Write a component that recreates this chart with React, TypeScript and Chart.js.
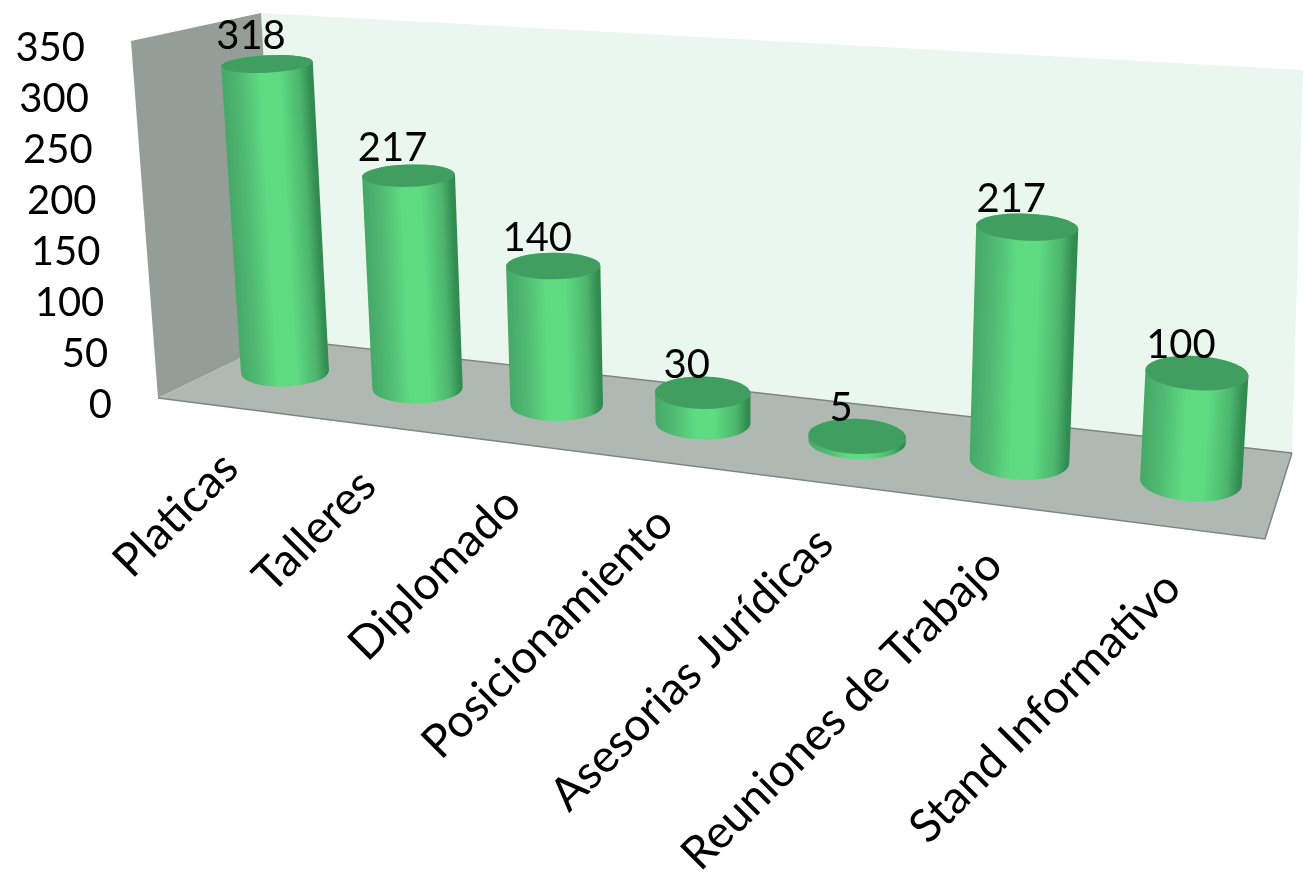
import React, { useEffect, useRef } from "react";
import { Chart, registerables, BarController } from "chart.js";

Chart.register(...registerables);

const categories = ["Platicas", "Talleres", "Diplomado", "Posicionamiento", "Asesorias Jurídicas", "Reuniones de Trabajo", "Stand Informativo"];
const values = [318, 217, 140, 30, 5, 217, 100];
const axisMax = 350;
const axisStep = 50;

const FONT = "Lato";
const LEFT_WALL = [[131, 41], [158, 398], [280, 339], [261, 13]];
const BACK_WALL = [[261, 13], [280, 339], [1292, 453], [1303, 70]];
const FLOOR = [[158, 398], [280, 339], [1292, 453], [1265, 539]];

// perspective of the plane through the cylinder axes: s along categories, t along values
const project = (s: number, t: number) => {
  const w = 1 - 0.1434 * s - 0.0405 * t;
  return { x: (735.2 * s - 30.62 * t + 285) / w, y: (40.9 * s - 341.6 * t + 372) / w };
};

const scalesOf = (chart: any) => {
  const xs = chart.scales.x, ys = chart.scales.y;
  const x0 = xs.getPixelForValue(0), x1 = xs.getPixelForValue(categories.length - 1);
  const y0 = ys.getPixelForValue(0), y1 = ys.getPixelForValue(axisMax);
  return { toS: (px: number) => (px - x0) / (x1 - x0), toT: (py: number) => (y0 - py) / (y0 - y1) };
};

const ring = (s: number, t: number) => {
  const c = project(s, t);
  const rx = 44 + 7 * s + 2 * t;
  const ry = rx * (0.16 + 0.00046 * c.y);
  const rot = ((-2 + 6 * s - t) * Math.PI) / 180;
  return { ...c, rx, ry, rot };
};

class CylinderController extends BarController {
  static id = "cylinder";
  draw() {
    const chart: any = this.chart;
    const ctx = chart.ctx;
    const { toS, toT } = scalesOf(chart);
    for (const el of (this as any)._cachedMeta.data) {
      const s = toS(el.x);
      const top = ring(s, toT(el.y));
      const bot = ring(s, toT(el.base));
      const dx = top.x - bot.x, dy = top.y - bot.y;
      const len = Math.hypot(dx, dy) || 1;
      const nx = -dy / len, ny = dx / len;
      const r = (top.rx + bot.rx) / 2;
      const mx = (top.x + bot.x) / 2, my = (top.y + bot.y) / 2;
      const g = ctx.createLinearGradient(mx - nx * r, my - ny * r, mx + nx * r, my + ny * r);
      const flip = nx > 0 ? 0 : 1;
      const stops: [number, string][] = [[0, "#46a866"], [0.2, "#50bb73"], [0.42, "#5fdc81"], [0.62, "#5fdc81"], [0.85, "#4cb56d"], [0.96, "#348e52"], [1, "#2f8a50"]];
      stops.forEach(([p, c]) => g.addColorStop(flip ? 1 - p : p, c));
      ctx.save();
      ctx.beginPath();
      ctx.ellipse(bot.x, bot.y, bot.rx, bot.ry, bot.rot, 0, Math.PI);
      ctx.ellipse(top.x, top.y, top.rx, top.ry, top.rot, Math.PI, 2 * Math.PI);
      ctx.closePath();
      ctx.fillStyle = g;
      ctx.fill();
      ctx.beginPath();
      ctx.ellipse(top.x, top.y, top.rx, top.ry, top.rot, 0, 2 * Math.PI);
      ctx.fillStyle = "#409f60";
      ctx.fill();
      ctx.restore();
    }
  }
}
Chart.register(CylinderController as any);

const poly = (ctx: CanvasRenderingContext2D, pts: number[][], fill: any) => {
  ctx.beginPath();
  pts.forEach(([x, y], i) => (i ? ctx.lineTo(x, y) : ctx.moveTo(x, y)));
  ctx.closePath();
  ctx.fillStyle = fill;
  ctx.fill();
};

const scenery = {
  id: "scenery",
  beforeDatasetsDraw(chart: any) {
    const ctx = chart.ctx;
    ctx.save();
    poly(ctx, BACK_WALL, "#e9f7ee");
    poly(ctx, LEFT_WALL, "#959d98");
    poly(ctx, FLOOR, "#b0b8b2");
    ctx.strokeStyle = "#7f8682";
    ctx.lineWidth = 1.5;
    ctx.beginPath();
    ctx.moveTo(FLOOR[0][0], FLOOR[0][1]);
    ctx.lineTo(FLOOR[3][0], FLOOR[3][1]);
    ctx.lineTo(FLOOR[2][0], FLOOR[2][1]);
    ctx.moveTo(FLOOR[1][0], FLOOR[1][1]);
    ctx.lineTo(FLOOR[2][0], FLOOR[2][1]);
    ctx.stroke();
    ctx.restore();
  },
};

const texts = {
  id: "texts",
  afterDatasetsDraw(chart: any) {
    const ctx = chart.ctx;
    const { toS, toT } = scalesOf(chart);
    ctx.save();
    ctx.fillStyle = "#000";
    ctx.font = `40px ${FONT}`;
    ctx.textAlign = "right";
    ctx.textBaseline = "alphabetic";
    for (const tick of chart.scales.y.ticks) {
      const t = toT(chart.scales.y.getPixelForValue(tick.value));
      ctx.fillText(String(tick.value), 112 - 27 * t, 418 - 357 * t);
    }
    ctx.textAlign = "center";
    chart.getDatasetMeta(0).data.forEach((el: any, i: number) => {
      const top = project(toS(el.x), toT(el.y));
      ctx.fillText(String(values[i]), top.x - 16, top.y - 15);
    });
    ctx.font = `46px ${FONT}`;
    ctx.textAlign = "right";
    ctx.textBaseline = "middle";
    categories.forEach((label, i) => {
      const base = project(toS(chart.scales.x.getPixelForValue(i)), 0);
      const ax = base.x * 1.04 - 66;
      const ay = 461 + 0.127 * (ax - 235);
      ctx.save();
      ctx.translate(ax, ay);
      ctx.rotate(-Math.PI / 4);
      ctx.fillText(label, 0, 0);
      ctx.restore();
    });
    ctx.restore();
  },
};

export default function App() {
  const ref = useRef<HTMLCanvasElement>(null);
  useEffect(() => {
    const chart = new Chart(ref.current!, {
      type: "cylinder" as any,
      data: { labels: categories, datasets: [{ data: values }] },
      options: {
        animation: false,
        responsive: false,
        devicePixelRatio: 1,
        layout: { padding: 0 },
        plugins: { legend: { display: false }, tooltip: { enabled: false } },
        scales: {
          x: { type: "category", display: false },
          y: { type: "linear", display: false, min: 0, max: axisMax, ticks: { stepSize: axisStep } },
        },
      },
      plugins: [scenery, texts],
    } as any);
    return () => chart.destroy();
  }, []);
  return (
    <div style={{ position: "fixed", left: 0, top: 0, width: 1303, height: 874, background: "#fff" }}>
      <canvas ref={ref} width={1303} height={874} style={{ display: "block" }} />
    </div>
  );
}
